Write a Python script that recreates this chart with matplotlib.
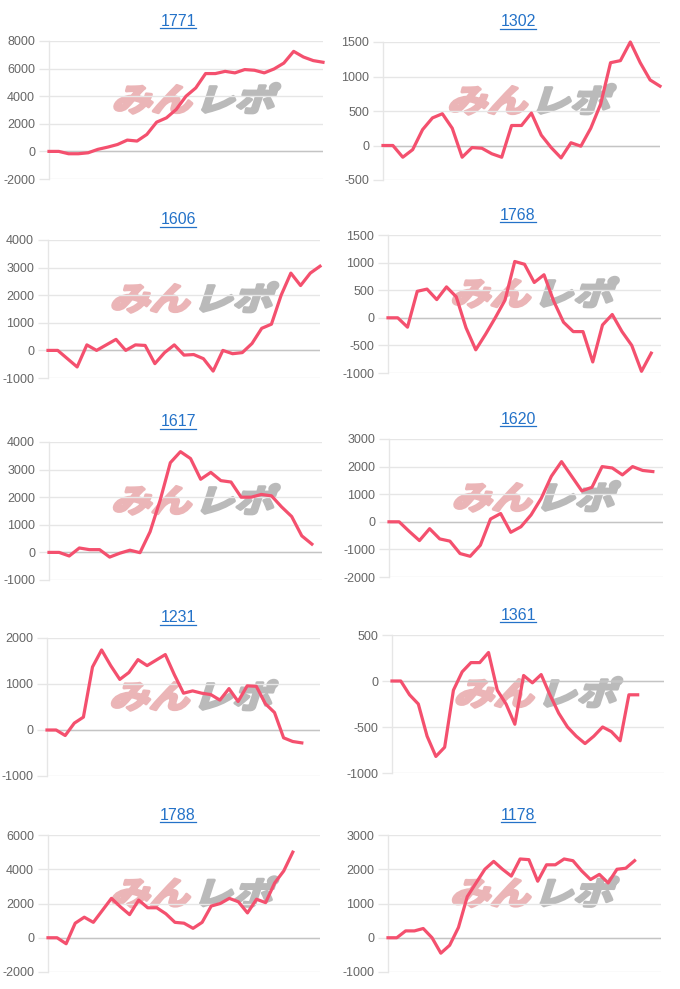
import matplotlib
matplotlib.use('Agg')
import matplotlib.pyplot as plt
from matplotlib.patheffects import AbstractPathEffect
from matplotlib.transforms import Affine2D
from matplotlib.lines import Line2D

plt.rcParams['axes.unicode_minus'] = False
plt.rcParams['font.family'] = ['Liberation Sans', 'DejaVu Sans']

# ---------------- data ----------------
titles = ['1771', '1302', '1606', '1768', '1617', '1620', '1231', '1361', '1788', '1178']

# number of x-axis categories for each chart (some series end before the last one)
label_counts = [29, 29, 29, 29, 28, 28, 31, 32, 31, 32]

s1771 = [0, 0, -170, -170, -100, 150, 310, 500, 820, 750, 1230, 2120, 2430, 3040, 4000,
         4600, 5640, 5640, 5800, 5690, 5930, 5880, 5690, 5975, 6400, 7250, 6840, 6580, 6460]
s1302 = [0, 0, -170, -60, 230, 400, 460, 250, -170, -30, -40, -120, -170, 290, 290, 470,
         150, -30, -180, 40, -10, 250, 600, 1200, 1230, 1500, 1200, 950, 860]
s1606 = [0, 0, -300, -600, 200, 0, 200, 400, 0, 200, 180, -480, -80, 200, -170, -150,
         -300, -750, 0, -120, -80, 250, 800, 950, 2000, 2800, 2350, 2800, 3050]
s1768 = [0, 0, -170, 480, 520, 330, 560, 380, -180, -580, -300, 0, 320, 1020, 970, 640,
         780, 300, -80, -250, -250, -800, -130, 60, -250, -500, -970, -640]
s1617 = [0, 0, -130, 160, 100, 100, -170, -30, 80, -10, 750, 1900, 3250, 3650, 3400,
         2650, 2900, 2600, 2550, 2000, 2000, 2100, 2050, 1650, 1300, 600, 300]
s1620 = [0, 0, -350, -680, -250, -620, -700, -1150, -1250, -850, 100, 300, -380, -180,
         250, 850, 1650, 2180, 1650, 1120, 1250, 2000, 1950, 1700, 2000, 1860, 1820]
s1231 = [0, 0, -120, 150, 280, 1370, 1740, 1400, 1100, 1250, 1530, 1400, 1520, 1640,
         1200, 800, 850, 800, 770, 650, 900, 620, 960, 950, 570, 380, -170, -250, -280]
s1361 = [0, 0, -150, -250, -600, -820, -720, -100, 100, 200, 200, 310, -100, -250, -470,
         60, -20, 70, -150, -350, -500, -600, -680, -600, -500, -550, -650, -150, -150]
s1788 = [0, 0, -350, 850, 1200, 900, 1600, 2300, 1800, 1350, 2200, 1750, 1750, 1400, 900,
         850, 550, 900, 1850, 2000, 2300, 2100, 1450, 2250, 2050, 3200, 3900, 5000]
s1178 = [0, 0, 200, 200, 270, 0, -450, -220, 300, 1200, 1600, 2000, 2230, 2000, 1800,
         2300, 2280, 1650, 2130, 2130, 2300, 2250, 1950, 1700, 1850, 1600, 2000, 2030, 2250]

series = [s1771, s1302, s1606, s1768, s1617, s1620, s1231, s1361, s1788, s1178]

yt1771 = [-2000, 0, 2000, 4000, 6000, 8000]
yt1302 = [-500, 0, 500, 1000, 1500]
yt1606 = [-1000, 0, 1000, 2000, 3000, 4000]
yt1768 = [-1000, -500, 0, 500, 1000, 1500]
yt1617 = [-1000, 0, 1000, 2000, 3000, 4000]
yt1620 = [-2000, -1000, 0, 1000, 2000, 3000]
yt1231 = [-1000, 0, 1000, 2000]
yt1361 = [-1000, -500, 0, 500]
yt1788 = [-2000, 0, 2000, 4000, 6000]
yt1178 = [-1000, 0, 1000, 2000, 3000]
yticks_all = [yt1771, yt1302, yt1606, yt1768, yt1617, yt1620, yt1231, yt1361, yt1788, yt1178]

watermark_a = 'みん'
watermark_b = 'レポ'

# ---------------- layout (pixels: left, right, top, bottom of plot area) ----------------
W, H = 680, 989
boxes = [
    (49, 323, 41, 179), (383, 660, 42, 180),
    (48, 320, 240, 378), (388, 661, 235, 373),
    (49, 322, 442, 580), (389, 663, 439, 577),
    (47, 320, 638, 776), (392, 664, 635, 773),
    (48, 320, 835, 972), (388, 661, 835, 972),
]
title_x = [178, 518]

LINE_COLOR = '#f4506e'
GRID = '#e6e6e6'
ZERO = '#c4c4c4'
TICK_TXT = '#666666'
TITLE_COLOR = '#2472c8'


class Slant(AbstractPathEffect):
    """Draw the text path slanted, stretched and emboldened around its centre."""
    def __init__(self, shear_deg=18, sx=1.15, stroke=2.5):
        super().__init__()
        self.shear = shear_deg
        self.sx = sx
        self.stroke = stroke

    def draw_path(self, renderer, gc, tpath, affine, rgbFace=None):
        ext = tpath.get_extents()
        cx, cy = affine.transform(((ext.x0 + ext.x1) / 2, (ext.y0 + ext.y1) / 2))
        extra = (Affine2D().translate(-cx, -cy).scale(self.sx, 1.0)
                 .skew_deg(self.shear, 0).translate(cx, cy))
        gc0 = renderer.new_gc()
        gc0.copy_properties(gc)
        gc0.set_foreground(rgbFace)
        gc0.set_linewidth(self.stroke)
        gc0.set_joinstyle('round')
        renderer.draw_path(gc0, tpath, affine + extra, rgbFace)
        gc0.restore()


fig = plt.figure(figsize=(W / 100, H / 100), dpi=100)
fig.patch.set_facecolor('white')

title_texts = []
for i, (title, vals, yt, L, box) in enumerate(zip(titles, series, yticks_all, label_counts, boxes)):
    l, r, t, b = box
    ax = fig.add_axes([l / W, 1 - b / H, (r - l) / W, (b - t) / H])
    xlabels = [str(k + 1) for k in range(L)]
    ax.set_xlim(0, L - 1)
    ax.set_ylim(yt[0], yt[-1])
    ax.set_xticks(range(L))
    ax.set_xticklabels(xlabels)
    ax.tick_params(axis='x', which='both', bottom=False, labelbottom=False)
    ax.set_yticks(yt)
    ax.set_yticklabels([str(v) for v in yt])
    ax.tick_params(axis='y', length=7, width=1, color=GRID, pad=3,
                   labelsize=9, labelcolor=TICK_TXT)
    ax.set_axisbelow(True)
    ax.grid(axis='y', color=GRID, lw=1)
    ax.grid(axis='x', visible=False)
    for s in ['top', 'right', 'bottom']:
        ax.spines[s].set_visible(False)
    ax.spines['left'].set_color(GRID)
    ax.spines['left'].set_linewidth(1)
    ax.axhline(0, color=ZERO, lw=1, zorder=0.8)

    ax.plot(range(len(vals)), vals, color=LINE_COLOR, lw=2.3, zorder=3,
            solid_joinstyle='round', clip_on=False)

    # watermark
    cxp = (l + r) / 2 + 11
    cyp = (t + b) / 2 - 8
    for txt, dx, col in [(watermark_a, -42, '#ebb5b7'), (watermark_b, 42, '#bababa')]:
        fig.text((cxp + dx) / W, 1 - cyp / H, txt, ha='center', va='center',
                 fontsize=23, fontweight='bold', color=col, zorder=1,
                 family=['Noto Sans CJK JP', 'DejaVu Sans'],
                 path_effects=[Slant(18, 1.25, 2.2)])

    # title
    col = i % 2
    tx = title_x[col]
    ty = t - 20
    tt = fig.text(tx / W, 1 - ty / H, title, ha='center', va='center',
                  fontsize=11.5, color=TITLE_COLOR)
    title_texts.append(tt)

for a in fig.axes:
    a.set_zorder(2)
    a.patch.set_alpha(0)

fig.canvas.draw()
renderer = fig.canvas.get_renderer()
for tt in title_texts:
    bb = tt.get_window_extent(renderer)
    y = bb.y0 + 1.0
    fig.add_artist(Line2D([bb.x0 / W, bb.x1 / W], [y / H, y / H],
                          transform=fig.transFigure, color=TITLE_COLOR, lw=0.9))

fig.savefig('out.png', dpi=100, facecolor='white')
